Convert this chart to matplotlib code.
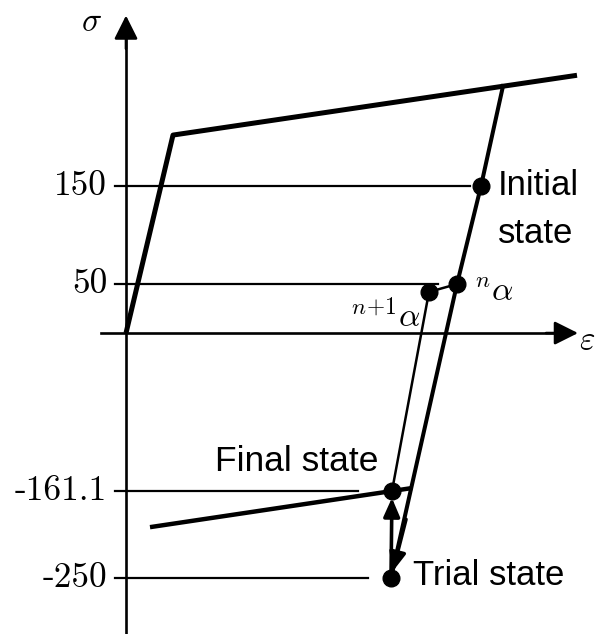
import matplotlib
matplotlib.use("Agg")
import matplotlib.pyplot as plt

plt.rcParams["mathtext.fontset"] = "cm"

# valores (deformacion en unidades arbitrarias, tension)
hard_up_eps = [0, 47, 451]
hard_up_sig = [0, 202, 263]

elastic_eps = [377, 355, 331, 265]        # descarga elastica: tope, inicial, n alpha, prueba
elastic_sig = [252, 150, 50, -250]

hard_low_eps = [24, 286]
hard_low_sig = [-198, -158.1]

state_names = ["Initial\nstate", "Final state", "Trial state"]
initial_pt = (355, 150)
alpha_n = (331, 50)
alpha_n1 = (303, 42)
final_pt = (266, -161.1)
trial_pt = (265, -250)

tick_vals = [150, 50, -161.1, -250]
tick_labels = ["150", "50", "-161.1", "-250"]
tick_ends = [344, 312, 232, 242]

fig = plt.figure(figsize=(5.95, 6.34), dpi=100)
ax = fig.add_axes([0, 0, 1, 1])
ax.set_xlim(-126, 469)
ax.set_ylim(-307, 339.8)
ax.axis("off")

# ejes con flechas
ax.plot([0, 0], [-307, 300], color="black", lw=1.9)
ax.annotate("", xy=(0, 324), xytext=(0, 290),
            arrowprops=dict(arrowstyle="-|>,head_length=0.9,head_width=0.45",
                            mutation_scale=16, color="black", lw=1.9,
                            shrinkA=0, shrinkB=0))
ax.plot([-25, 430], [0, 0], color="black", lw=1.9)
ax.annotate("", xy=(452, 0), xytext=(420, 0),
            arrowprops=dict(arrowstyle="-|>,head_length=0.9,head_width=0.45",
                            mutation_scale=16, color="black", lw=1.9,
                            shrinkA=0, shrinkB=0))
ax.text(-35, 318, r"$\sigma$", fontsize=24, ha="center", va="center")
ax.text(461, -7, r"$\varepsilon$", fontsize=24, ha="center", va="center")

# lineas de referencia y etiquetas
for v, lab, end in zip(tick_vals, tick_labels, tick_ends):
    ax.plot([-11, end], [v, v], color="black", lw=1.6)
    ax.text(-19, v, lab, fontsize=25.5, family="cmr10", ha="right", va="center")

# curva de carga
ax.plot(hard_up_eps, hard_up_sig, color="black", lw=3.6, solid_capstyle="butt")
ax.plot(elastic_eps, elastic_sig, color="black", lw=2.9)
ax.plot(hard_low_eps, hard_low_sig, color="black", lw=3.2, solid_capstyle="butt")

# retorno
ax.plot([alpha_n1[0], final_pt[0]], [alpha_n1[1], final_pt[1]], color="black", lw=1.8)
ax.plot([alpha_n1[0], alpha_n[0]], [alpha_n1[1], alpha_n[1]], color="black", lw=1.8)

ax.annotate("", xy=trial_pt, xytext=(280, -190),
            arrowprops=dict(arrowstyle="-|>,head_length=0.8,head_width=0.35",
                            mutation_scale=14, color="black", lw=2.6,
                            shrinkA=0, shrinkB=5))
ax.annotate("", xy=final_pt, xytext=trial_pt,
            arrowprops=dict(arrowstyle="-|>,head_length=0.8,head_width=0.35",
                            mutation_scale=14, color="black", lw=2.6,
                            shrinkA=5, shrinkB=5))

pts = [initial_pt, alpha_n, alpha_n1, final_pt, trial_pt]
ax.plot([p[0] for p in pts], [p[1] for p in pts], "o", color="black",
        markersize=12, linestyle="none")

ax.text(372, 126, state_names[0], fontsize=25, family="Liberation Sans",
        ha="left", va="center", linespacing=1.6)
ax.text(89, -131, state_names[1], fontsize=25.5, family="Liberation Sans",
        ha="left", va="center")
ax.text(287, -247, state_names[2], fontsize=25, family="Liberation Sans",
        ha="left", va="center")

ax.text(348, 42, r"${}^{n}\alpha$", fontsize=24, ha="left", va="center")
ax.text(224, 16, r"${}^{n\!+\!1}\alpha$", fontsize=24, ha="left", va="center")

fig.savefig("out.png", dpi=100)
